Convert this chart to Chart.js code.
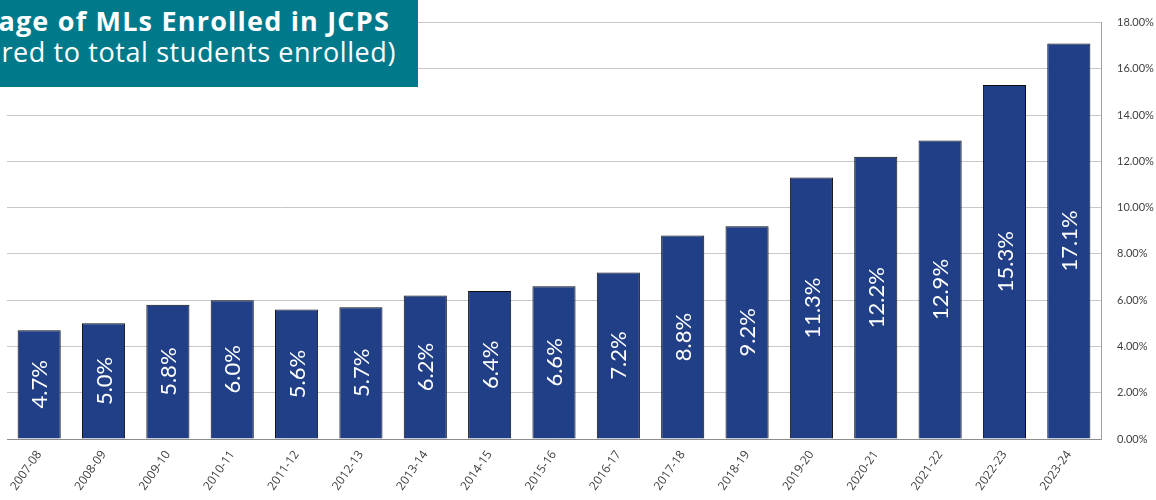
<!DOCTYPE html>
<html>
<head>
<meta charset="utf-8">
<script src="https://cdn.jsdelivr.net/npm/chart.js@4"></script>
<style>
  html, body { margin: 0; padding: 0; background: #ffffff; }
  #wrap { position: relative; width: 1156px; height: 500px; overflow: hidden; }
  #title {
    position: absolute; left: 0; top: 0; width: 418px; height: 87px;
    background: #007A8B; color: #ffffff; overflow: hidden; font-family: "Open Sans", sans-serif;
  }
  #title .l1 { position: absolute; right: 28px; top: 3px; white-space: nowrap; font-weight: bold; font-size: 27px; letter-spacing: 1.2px; line-height: 36px; }
  #title .l2 { position: absolute; right: 22px; top: 34px; white-space: nowrap; font-size: 27px; letter-spacing: 0.6px; line-height: 36px; }
</style>
</head>
<body>
<div id="wrap">
  <canvas id="c" width="1156" height="500"></canvas>
  <div id="title"><div class="l1">Percentage of MLs Enrolled in JCPS</div><div class="l2">(compared to total students enrolled)</div></div>
</div>
<script>
const categories = ["2007-08","2008-09","2009-10","2010-11","2011-12","2012-13","2013-14","2014-15","2015-16","2016-17","2017-18","2018-19","2019-20","2020-21","2021-22","2022-23","2023-24"];
const mlPercent = [4.7, 5.0, 5.8, 6.0, 5.6, 5.7, 6.2, 6.4, 6.6, 7.2, 8.8, 9.2, 11.3, 12.2, 12.9, 15.3, 17.1];
const yTicks = [0, 2, 4, 6, 8, 10, 12, 14, 16, 18];

const barLabels = {
  id: 'barLabels',
  afterDatasetsDraw(chart) {
    const ctx = chart.ctx;
    const meta = chart.getDatasetMeta(0);
    meta.data.forEach((bar, i) => {
      const cy = (bar.y + bar.base) / 2;
      ctx.save();
      ctx.fillStyle = '#ffffff';
      ctx.font = '22px Lato, sans-serif';
      ctx.textAlign = 'center';
      ctx.textBaseline = 'middle';
      ctx.translate(bar.x, cy);
      ctx.rotate(-Math.PI / 2);
      ctx.fillText(mlPercent[i].toFixed(1) + '%', 0, 1);
      ctx.restore();
    });
  }
};

new Chart(document.getElementById('c'), {
  type: 'bar',
  data: {
    labels: categories,
    datasets: [{
      data: mlPercent,
      backgroundColor: '#203F86',
      borderColor: '#0d0d0d',
      borderWidth: 1,
      borderSkipped: 'bottom',
      categoryPercentage: 1,
      barPercentage: 0.67
    }]
  },
  options: {
    responsive: false,
    animation: false,
    layout: { padding: { left: 7, top: 17, right: 0, bottom: 0 } },
    plugins: { legend: { display: false }, tooltip: { enabled: false } },
    scales: {
      x: {
        grid: { display: false, drawTicks: false },
        border: { display: true, color: '#8c8c8c', width: 1 },
        ticks: {
          maxRotation: 55, minRotation: 55, padding: 9,
          color: '#404040', font: { family: 'Open Sans, sans-serif', size: 12 }
        },
        afterFit(s) { s.height = 61; }
      },
      y: {
        position: 'right',
        min: 0, max: 18,
        afterBuildTicks(s) { s.ticks = yTicks.map(v => ({ value: v })); },
        grid: { color: '#c8c8c8', lineWidth: 1, drawTicks: false },
        border: { display: true, color: '#a0a0a0', width: 1 },
        ticks: {
          padding: 16, color: '#404040',
          font: { family: 'Lato, sans-serif', size: 11 },
          callback: v => v.toFixed(2) + '%'
        },
        afterFit(s) { s.width = 55; }
      }
    }
  },
  plugins: [barLabels]
});
</script>
</body>
</html>
